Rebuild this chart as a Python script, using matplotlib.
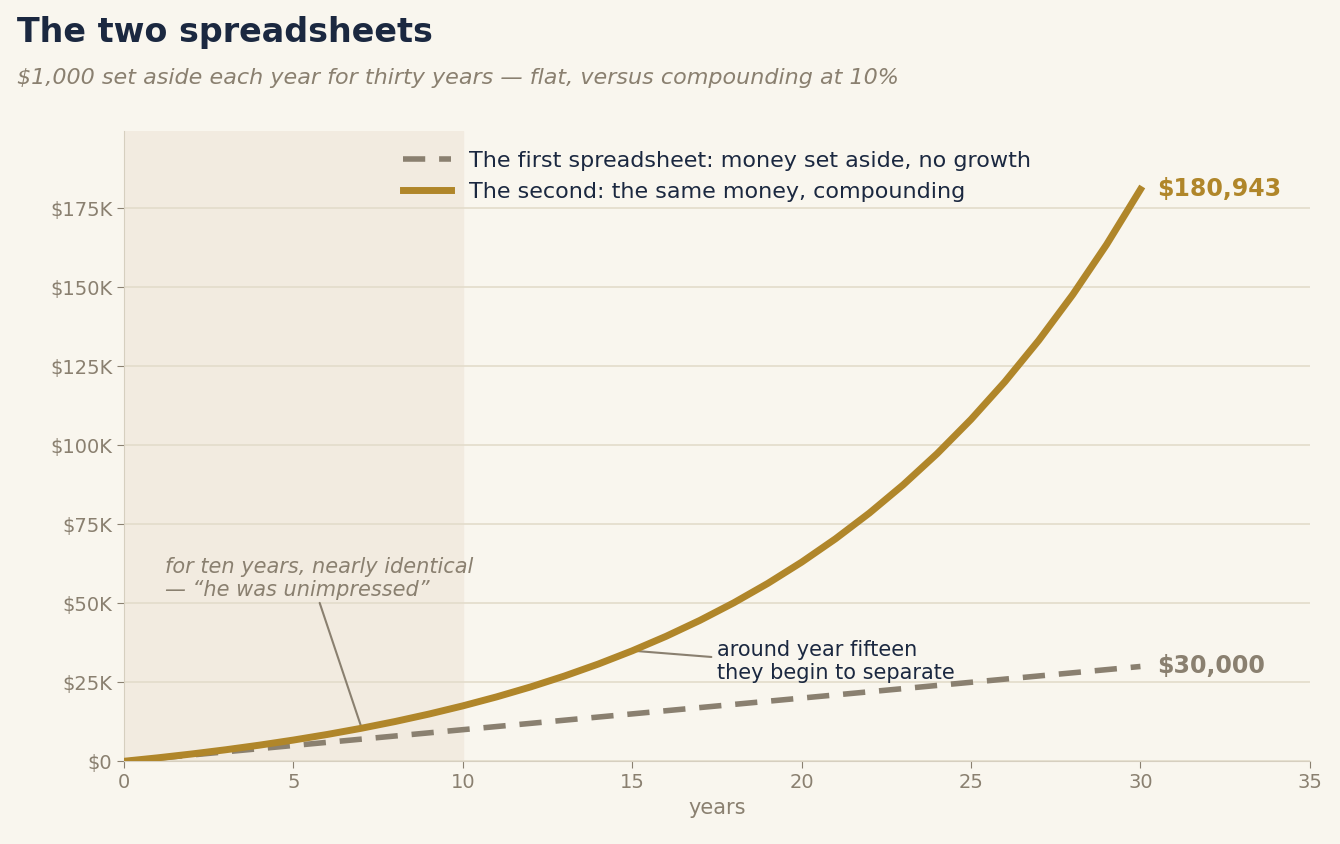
import matplotlib.pyplot as plt
from matplotlib.ticker import FuncFormatter

years = list(range(0, 31))
flat = [1000 * y for y in years]
compound = [0, 1100, 2310, 3641, 5105, 6716, 8487, 10436, 12579, 14937, 17531,
            20384, 23523, 26975, 30772, 34950, 39545, 44599, 50159, 56275, 63002,
            70403, 78543, 87497, 97347, 108182, 120100, 133210, 147631, 163494, 180943]

BG = "#f9f6ee"
GOLD = "#b0862a"
GREY = "#8a8070"
NAVY = "#1b2840"

fig = plt.figure(figsize=(13.4, 8.44), dpi=100, facecolor=BG)
ax = fig.add_axes([0.0925, 0.098, 0.885, 0.747], facecolor=BG)

ax.axvspan(0, 10, color="#f2ebe0", zorder=0)
ax.plot(years, flat, color=GREY, lw=4, ls=(0, (4, 2.5)), zorder=3,
        label="The first spreadsheet: money set aside, no growth")
ax.plot(years, compound, color=GOLD, lw=5, zorder=4,
        label="The second: the same money, compounding")

ax.set_xlim(0, 35)
ax.set_ylim(0, 199500)
ax.set_yticks(range(0, 175001, 25000))
ax.yaxis.set_major_formatter(FuncFormatter(lambda v, p: "$0" if v == 0 else f"${int(v/1000)}K"))
ax.grid(axis="y", color="#e3dccb", lw=1.2)
ax.set_axisbelow(True)
for s in ["top", "right"]:
    ax.spines[s].set_visible(False)
for s in ["left", "bottom"]:
    ax.spines[s].set_color("#d6cfbf")
ax.tick_params(colors=GREY, labelsize=14, length=5)
ax.tick_params(axis="y", colors=GREY)
ax.set_xlabel("years", color=GREY, fontsize=15)

ax.text(30.5, compound[-1], "$180,943", color=GOLD, fontsize=17, fontweight="bold", va="center")
ax.text(30.5, flat[-1], "$30,000", color=GREY, fontsize=17, fontweight="bold", va="center")

ax.annotate("for ten years, nearly identical\n\u2014 \u201che was unimpressed\u201d",
            xy=(7, 11000), xytext=(1.2, 51000), color=GREY, fontsize=15, style="italic",
            arrowprops=dict(arrowstyle="-", color=GREY, lw=1.5,
                            relpos=(0.5, 0.0), shrinkA=0, shrinkB=0),
            va="bottom")
ax.annotate("around year fifteen\nthey begin to separate",
            xy=(15, 35000), xytext=(17.5, 31500), color=NAVY, fontsize=15,
            arrowprops=dict(arrowstyle="-", color=GREY, lw=1.5, relpos=(0, 0.6),
                            shrinkA=2, shrinkB=0),
            va="center")

leg = ax.legend(loc="upper center", bbox_to_anchor=(0.5, 1.0), frameon=False,
                fontsize=16, labelcolor=NAVY, handlelength=2.2)

fig.text(0.013, 0.962, "The two spreadsheets", fontsize=24, fontweight="bold", color=NAVY, va="center")
fig.text(0.013, 0.907, "$1,000 set aside each year for thirty years \u2014 flat, versus compounding at 10%",
         fontsize=16, style="italic", color=GREY, va="center")

fig.savefig("out.png", dpi=100, facecolor=BG)
